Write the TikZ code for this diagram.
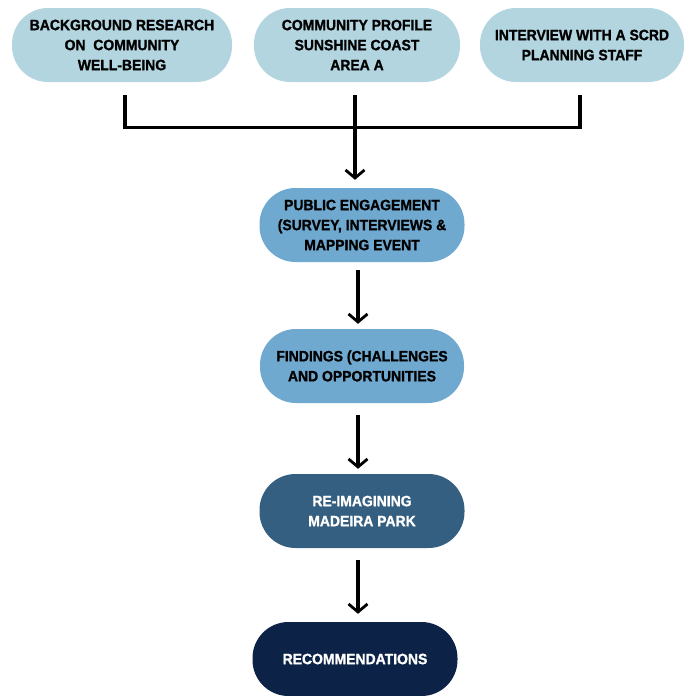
\documentclass[tikz,border=0pt]{standalone}
\usepackage{fontspec}
\setmainfont{Liberation Sans}[FakeStretch=0.93,FakeBold=1.2]
\usepackage{tikz}
\usetikzlibrary{arrows.meta,positioning,calc}
\definecolor{stpale}{HTML}{B3D5E0}
\definecolor{stmid}{HTML}{70A9D0}
\definecolor{ststeel}{HTML}{355F80}
\definecolor{stnavy}{HTML}{0C2347}

\tikzset{
  stage/.style={rounded corners=36pt,minimum height=74pt,align=center,
    font=\bfseries\fontsize{15}{20}\selectfont,inner sep=2pt},
  link/.style={line width=3.2pt,black},
  flow/.style={link,-{Straight Barb[length=8pt,width=19pt,line width=2.8pt]}}
}

\begin{document}
\begin{tikzpicture}[x=1pt,y=-1pt]
\useasboundingbox (0,0) rectangle (689,696);
% top row
\node[stage,fill=stpale,minimum width=220pt] (research) at (122,45) {BACKGROUND RESEARCH\\ON \ COMMUNITY\\WELL-BEING};
\node[stage,fill=stpale,minimum width=206pt] (profile) at (357,45) {COMMUNITY PROFILE\\SUNSHINE COAST\\AREA A};
\node[stage,fill=stpale,minimum width=204pt] (interview) at (582,45) {INTERVIEW WITH A SCRD\\PLANNING STAFF};
% main column
\node[stage,fill=stmid,minimum width=205pt] (engage) at (362,225) {PUBLIC ENGAGEMENT\\(SURVEY, INTERVIEWS \&\\MAPPING EVENT};
\node[stage,fill=stmid,minimum width=204pt] (findings) at (362,366) {FINDINGS (CHALLENGES\\AND OPPORTUNITIES};
\node[stage,fill=ststeel,text=white,minimum width=205pt] (reimagine) at (362,511) {RE-IMAGINING\\MADEIRA PARK};
\node[stage,fill=stnavy,text=white,minimum width=205pt] (recs) at (355,659) {RECOMMENDATIONS};
% merge bar
\coordinate (barl) at ($(research.south)+(3,45)$);
\coordinate (barr) at ($(interview.south)+(-2,45)$);
\coordinate (drop) at ($(profile.south)+(-2,13)$);
\draw[link] ($(research.south)+(3,13)$) -- (barl) -- (barr) -- ($(interview.south)+(-2,13)$);
\draw[flow] (drop) -- ($(drop |- engage.north)+(0,-8)$);
% arrows down the column
\draw[flow] ($(engage.south)+(-4,8)$) -- ($(findings.north)+(-4,-5)$);
\draw[flow] ($(findings.south)+(-4,12)$) -- ($(reimagine.north)+(-4,-5)$);
\draw[flow] ($(reimagine.south)+(-4,12)$) -- ($(recs.north)+(3,-8)$);
\end{tikzpicture}
\end{document}
